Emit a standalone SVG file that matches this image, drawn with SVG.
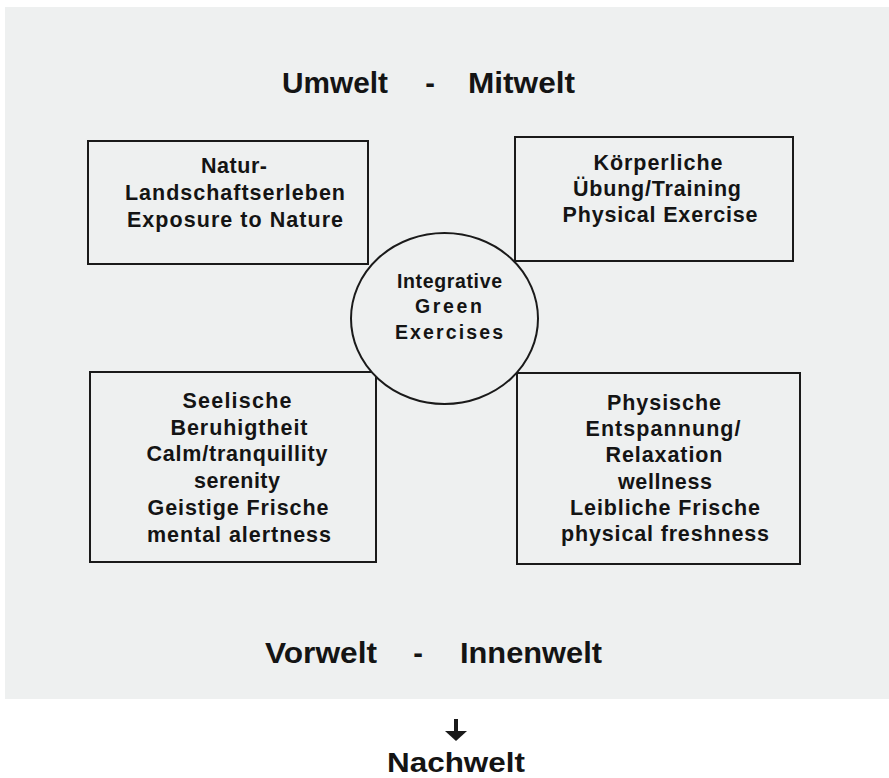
<svg xmlns="http://www.w3.org/2000/svg" width="889" height="778" viewBox="0 0 889 778">
<style>
.box{fill:#eef0f0;stroke:#1a1a1a;stroke-width:2}
.t{font-family:"Liberation Sans",Arial,sans-serif;font-weight:bold;fill:#141414;text-anchor:middle}
.b{font-size:21.5px}
.c{font-size:19.5px}
.h{font-size:29px}
</style>
<rect x="0" y="0" width="889" height="778" fill="#ffffff"/>
<rect x="5" y="7" width="884" height="692" fill="#eef0f0"/>
<g id="title-top">
<text class="t h" x="335" y="93" textLength="106" lengthAdjust="spacingAndGlyphs">Umwelt</text>
<text class="t h" x="430" y="93">-</text>
<text class="t h" x="521.5" y="93" textLength="107" lengthAdjust="spacingAndGlyphs">Mitwelt</text>
</g>
<g id="node-nature">
<rect class="box" x="88" y="141" width="280" height="123"/>
<text class="t b" x="234" y="173" textLength="66">Natur-</text>
<text class="t b" x="235" y="200" textLength="220">Landschaftserleben</text>
<text class="t b" x="235" y="227" textLength="216">Exposure to Nature</text>
</g>
<g id="node-exercise">
<rect class="box" x="515" y="137" width="278" height="124"/>
<text class="t b" x="658" y="170" textLength="129">Körperliche</text>
<text class="t b" x="657" y="196" textLength="168">Übung/Training</text>
<text class="t b" x="660" y="222" textLength="195">Physical Exercise</text>
</g>
<g id="node-calm">
<rect class="box" x="90" y="372" width="286" height="190"/>
<text class="t b" x="237" y="408" textLength="109">Seelische</text>
<text class="t b" x="239" y="435" textLength="137">Beruhigtheit</text>
<text class="t b" x="237" y="461" textLength="181">Calm/tranquillity</text>
<text class="t b" x="237" y="488" textLength="86">serenity</text>
<text class="t b" x="238" y="515" textLength="181">Geistige Frische</text>
<text class="t b" x="239" y="542" textLength="184">mental alertness</text>
</g>
<g id="node-relax">
<rect class="box" x="517" y="373" width="283" height="191"/>
<text class="t b" x="664" y="410" textLength="114">Physische</text>
<text class="t b" x="663" y="436" textLength="155">Entspannung/</text>
<text class="t b" x="664" y="462" textLength="117">Relaxation</text>
<text class="t b" x="665" y="489" textLength="94">wellness</text>
<text class="t b" x="665" y="515" textLength="190">Leibliche Frische</text>
<text class="t b" x="665" y="541" textLength="208">physical freshness</text>
</g>
<g id="node-center">
<ellipse cx="444.5" cy="318.5" rx="93.5" ry="85.5" fill="#eef0f0" stroke="#1a1a1a" stroke-width="2"/>
<text class="t c" x="449.5" y="288" textLength="105">Integrative</text>
<text class="t c" x="448.5" y="313" textLength="67">Green</text>
<text class="t c" x="449" y="339" textLength="108">Exercises</text>
</g>
<g id="title-bottom">
<text class="t h" x="321" y="663" textLength="112" lengthAdjust="spacingAndGlyphs">Vorwelt</text>
<text class="t h" x="418" y="663">-</text>
<text class="t h" x="531" y="663" textLength="142" lengthAdjust="spacingAndGlyphs">Innenwelt</text>
</g>
<g id="connectors">
<line x1="456" y1="719" x2="456" y2="733" stroke="#1a1a1a" stroke-width="4"/>
<polygon points="445,731 467,731 456,741" fill="#1a1a1a"/>
</g>
<g id="node-nachwelt">
<text class="t" x="456" y="772" font-size="28" textLength="138" lengthAdjust="spacingAndGlyphs" fill="#222">Nachwelt</text>
</g>
</svg>
